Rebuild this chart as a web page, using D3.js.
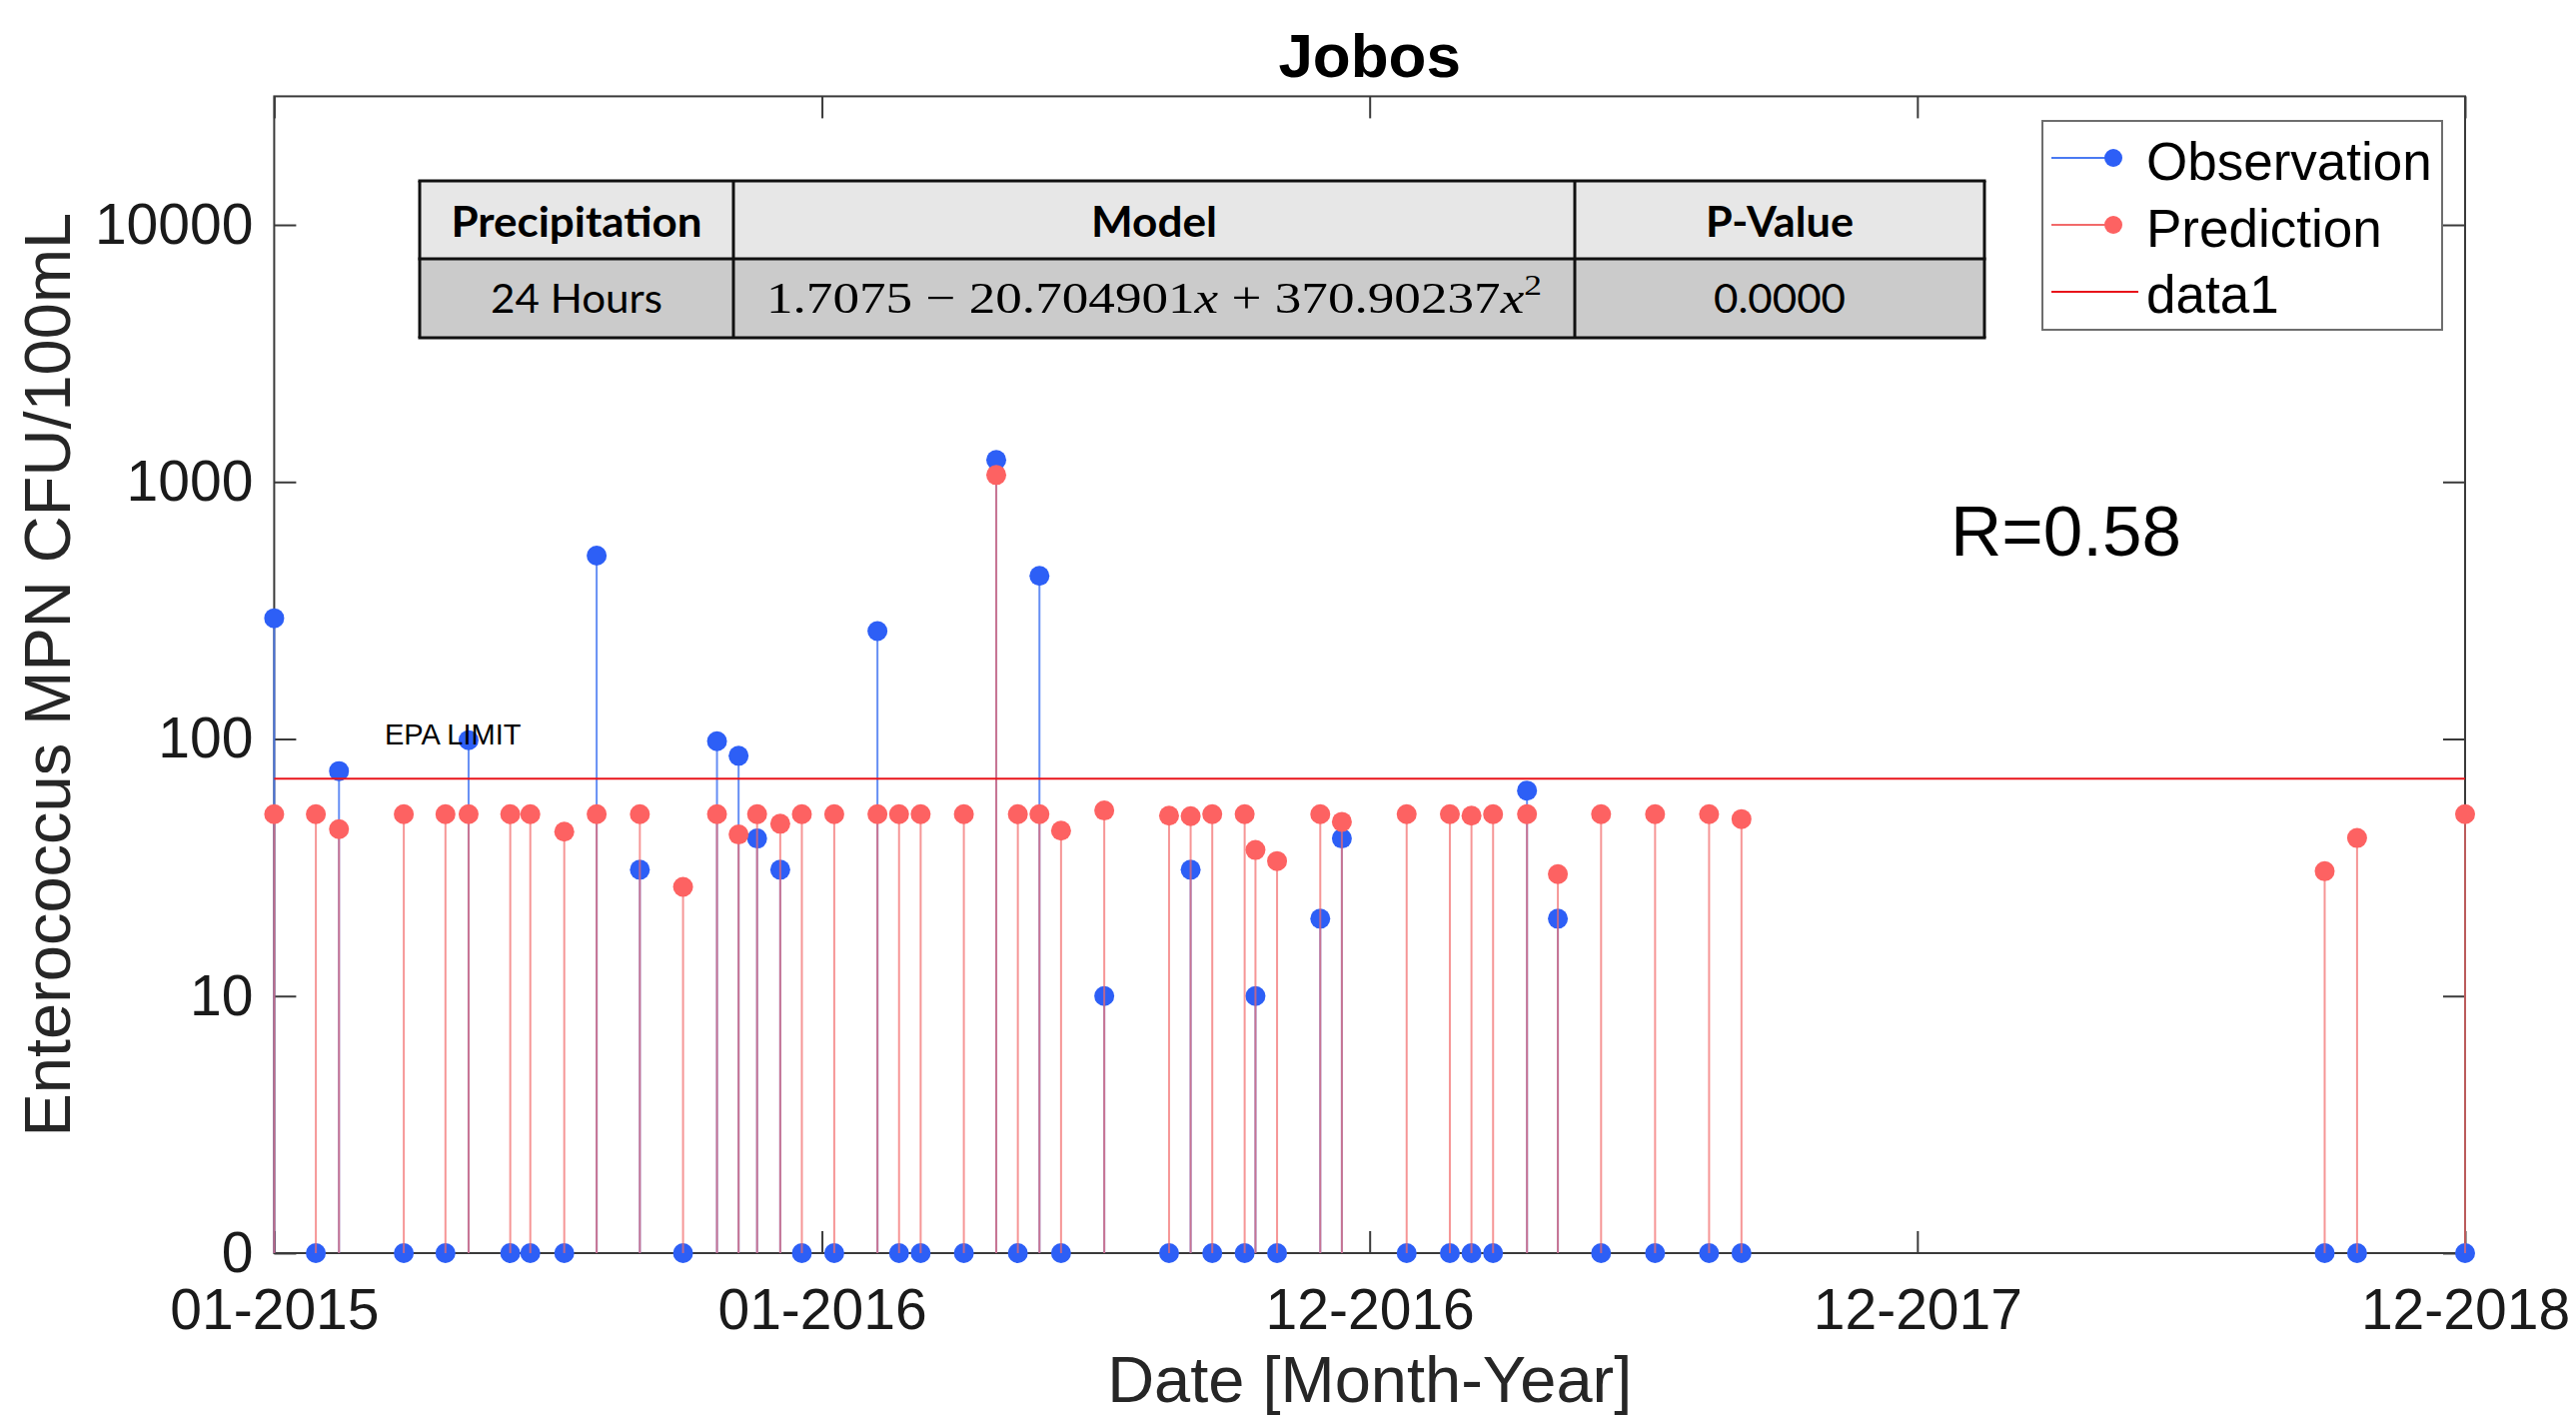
<!DOCTYPE html>
<html>
<head>
<meta charset="utf-8">
<script src="https://cdn.jsdelivr.net/npm/d3@7"></script>
<style>
  body { margin: 0; background: #ffffff; }
  text { font-family: "Liberation Sans", Arial, sans-serif; }
</style>
</head>
<body>
<div id="canvas"></div>
<script>
"use strict"

/* Data */
let sampleDates = [
    "2015-01-20", "2015-02-16", "2015-03-03", "2015-04-14", "2015-05-11", "2015-05-26",
    "2015-06-22", "2015-07-05", "2015-07-27", "2015-08-17", "2015-09-14", "2015-10-12",
    "2015-11-03", "2015-11-17", "2015-11-29", "2015-12-14", "2015-12-28", "2016-01-18",
    "2016-02-15", "2016-02-29", "2016-03-14", "2016-04-11", "2016-05-02", "2016-05-16",
    "2016-05-30", "2016-06-13", "2016-07-11", "2016-08-22", "2016-09-05", "2016-09-19",
    "2016-10-10", "2016-10-17", "2016-10-31", "2016-11-28", "2016-12-12", "2017-01-23",
    "2017-02-20", "2017-03-06", "2017-03-20", "2017-04-11", "2017-05-01", "2017-05-29",
    "2017-07-03", "2017-08-07", "2017-08-28", "2018-09-10", "2018-10-01", "2018-12-10"
];

let observation = [
    295, 0, 75, 0, 0, 99,
    0, 0, 0, 517, 31, 0,
    98, 86, 41, 31, 0, 0,
    263, 0, 0, 0, 1218, 0,
    431, 0, 10, 0, 31, 0,
    0, 10, 0, 20, 41, 0,
    0, 0, 0, 63, 20, 0,
    0, 0, 0, 0, 0, 0
];

let prediction = [
    51, 51, 44.6, 51, 51, 51,
    51, 51, 43.6, 51, 51, 26.6,
    51, 42.5, 51, 46.8, 51, 51,
    51, 51, 51, 51, 1064, 51,
    51, 44, 52.7, 50.3, 50.1, 51,
    51, 37, 33.5, 51, 47.6, 51,
    51, 50.3, 51, 51, 29.8, 51,
    51, 51, 48.8, 30.6, 41.2, 51
];

let epaLimit = 70;
let yTickValues = [1, 10, 100, 1000, 10000];
let axisStart = "2015-01-20";
let axisEnd = "2018-12-10";

let tableHeader = ["Precipitation", "Model", "P-Value"];
let tableRow = ["24 Hours", "", "0.0000"];

/* Configuration variables: drawing */
let svgWidth = 2578;
let svgHeight = 1419;
let plotLeft = 274.4;
let plotRight = 2467;
let plotTop = 96.4;
let plotBottom = 1254;
let tickLen = 22;
let axisColor = "#3a3a3a";
let blue = "#2d5ff6";
let red = "#fd6262";
let dotRadius = 10;

let svg = d3.select("#canvas")
    .append("svg")
    .attr("width", svgWidth)
    .attr("height", svgHeight);

let parseDate = d3.utcParse("%Y-%m-%d");
let dates = sampleDates.map(parseDate);
let xStart = parseDate(axisStart);
let xEnd = parseDate(axisEnd);

let x = d3.scaleUtc()
    .domain([xStart, xEnd])
    .range([plotLeft, plotRight]);

let y = d3.scaleLog()
    .domain([1, Math.pow(10, 4.5)])
    .range([plotBottom, plotTop]);

/* MATLAB spreads its five date ticks evenly over the limits */
let xTicks = d3.range(5).map(function (i) {
    return new Date(+xStart + i * (xEnd - xStart) / 4);
});

function yPos(v) {
    return y(Math.max(v, 1));
}

/**** axes and frame ****/
function styleAxis(g, fontSize) {
    g.select(".domain").remove();
    g.selectAll(".tick line")
        .attr("stroke", axisColor)
        .attr("stroke-width", 2);
    g.selectAll(".tick text")
        .attr("fill", "#1a1a1a")
        .style("font-family", "'Liberation Sans', Arial, sans-serif")
        .style("font-size", fontSize + "px");
}

svg.append("g")
    .attr("transform", "translate(0," + plotBottom + ")")
    .call(d3.axisBottom(x).tickValues(xTicks).tickFormat(d3.utcFormat("%m-%Y"))
        .tickSizeInner(-tickLen).tickSizeOuter(0).tickPadding(36))
    .call(styleAxis, 57);

svg.append("g")
    .attr("transform", "translate(0," + plotTop + ")")
    .call(d3.axisTop(x).tickValues(xTicks).tickFormat("")
        .tickSizeInner(-tickLen).tickSizeOuter(0))
    .call(styleAxis, 1);

svg.append("g")
    .attr("transform", "translate(" + plotLeft + ",0)")
    .call(d3.axisLeft(y).tickValues(yTickValues)
        .tickFormat(function (v) { return v === 1 ? "0" : String(v); })
        .tickSizeInner(-tickLen).tickSizeOuter(0).tickPadding(21))
    .call(styleAxis, 57);

svg.append("g")
    .attr("transform", "translate(" + plotRight + ",0)")
    .call(d3.axisRight(y).tickValues(yTickValues).tickFormat("")
        .tickSizeInner(-tickLen).tickSizeOuter(0))
    .call(styleAxis, 1);

svg.append("rect")
    .attr("x", plotLeft)
    .attr("y", plotTop)
    .attr("width", plotRight - plotLeft)
    .attr("height", plotBottom - plotTop)
    .attr("fill", "none")
    .attr("stroke", axisColor)
    .attr("stroke-width", 2);

/**** stems ****/
let points = dates.map(function (d, i) {
    return { date: d, obs: observation[i], pred: prediction[i] };
});

let obsLayer = svg.append("g");
obsLayer.selectAll("line")
    .data(points)
    .join("line")
    .attr("x1", function (d) { return x(d.date); })
    .attr("x2", function (d) { return x(d.date); })
    .attr("y1", plotBottom)
    .attr("y2", function (d) { return yPos(d.obs); })
    .attr("stroke", "#4a7af2")
    .attr("stroke-opacity", 0.85)
    .attr("stroke-width", 2);

obsLayer.selectAll("circle")
    .data(points)
    .join("circle")
    .attr("cx", function (d) { return x(d.date); })
    .attr("cy", function (d) { return yPos(d.obs); })
    .attr("r", dotRadius)
    .attr("fill", blue);

let predLayer = svg.append("g");
predLayer.selectAll("line")
    .data(points)
    .join("line")
    .attr("x1", function (d) { return x(d.date); })
    .attr("x2", function (d) { return x(d.date); })
    .attr("y1", plotBottom)
    .attr("y2", function (d) { return yPos(d.pred); })
    .attr("stroke", "#f26a6a")
    .attr("stroke-opacity", 0.7)
    .attr("stroke-width", 2);

predLayer.selectAll("circle")
    .data(points)
    .join("circle")
    .attr("cx", function (d) { return x(d.date); })
    .attr("cy", function (d) { return yPos(d.pred); })
    .attr("r", dotRadius)
    .attr("fill", red);

/**** EPA limit ****/
svg.append("line")
    .attr("x1", plotLeft)
    .attr("x2", plotRight)
    .attr("y1", y(epaLimit))
    .attr("y2", y(epaLimit))
    .attr("stroke", "#e8141b")
    .attr("stroke-width", 2);

svg.append("text")
    .attr("x", 385)
    .attr("y", 745)
    .style("font-size", "29px")
    .text("EPA LIMIT");

/**** titles and labels ****/
svg.append("text")
    .attr("x", (plotLeft + plotRight) / 2)
    .attr("y", 77)
    .attr("text-anchor", "middle")
    .style("font-size", "62px")
    .style("font-weight", "bold")
    .text("Jobos");

svg.append("text")
    .attr("x", (plotLeft + plotRight) / 2)
    .attr("y", 1403)
    .attr("text-anchor", "middle")
    .attr("fill", "#262626")
    .style("font-size", "65px")
    .text("Date [Month-Year]");

svg.append("text")
    .attr("transform", "translate(70," + ((plotTop + plotBottom) / 2) + ") rotate(-90)")
    .attr("text-anchor", "middle")
    .attr("fill", "#262626")
    .style("font-size", "65px")
    .text("Enterococcus MPN CFU/100mL");

svg.append("text")
    .attr("x", 1952)
    .attr("y", 556)
    .style("font-size", "71px")
    .text("R=0.58");

/**** legend ****/
let legend = svg.append("g");
legend.append("rect")
    .attr("x", 2044)
    .attr("y", 121)
    .attr("width", 400)
    .attr("height", 209)
    .attr("fill", "#ffffff")
    .attr("stroke", "#6e6e6e")
    .attr("stroke-width", 2);

let legendItems = [
    { label: "Observation", line: "#4a7af2", dot: blue, cy: 158, ty: 180 },
    { label: "Prediction", line: "#f26a6a", dot: red, cy: 225, ty: 247 },
    { label: "data1", line: "#e8141b", dot: null, cy: 292, ty: 313 }
];

legendItems.forEach(function (item) {
    legend.append("line")
        .attr("x1", 2053)
        .attr("x2", item.dot ? 2115 : 2140)
        .attr("y1", item.cy)
        .attr("y2", item.cy)
        .attr("stroke", item.line)
        .attr("stroke-width", 2);
    if (item.dot) {
        legend.append("circle")
            .attr("cx", 2115)
            .attr("cy", item.cy)
            .attr("r", 9)
            .attr("fill", item.dot);
    }
    legend.append("text")
        .attr("x", 2148)
        .attr("y", item.ty)
        .style("font-size", "53px")
        .text(item.label);
});

/**** model table ****/
let colEdges = [420, 734, 1576, 1986];
let rowEdges = [181, 259, 338];
let table = svg.append("g");

table.append("rect")
    .attr("x", colEdges[0]).attr("y", rowEdges[0])
    .attr("width", colEdges[3] - colEdges[0]).attr("height", rowEdges[1] - rowEdges[0])
    .attr("fill", "#e7e7e7");
table.append("rect")
    .attr("x", colEdges[0]).attr("y", rowEdges[1])
    .attr("width", colEdges[3] - colEdges[0]).attr("height", rowEdges[2] - rowEdges[1])
    .attr("fill", "#cbcbcb");

rowEdges.forEach(function (ry) {
    table.append("line")
        .attr("x1", colEdges[0] - 1.5).attr("x2", colEdges[3] + 1.5)
        .attr("y1", ry).attr("y2", ry)
        .attr("stroke", "#111111").attr("stroke-width", 3);
});
colEdges.forEach(function (cx) {
    table.append("line")
        .attr("x1", cx).attr("x2", cx)
        .attr("y1", rowEdges[0]).attr("y2", rowEdges[2])
        .attr("stroke", "#111111").attr("stroke-width", 3);
});

let headerWidths = [251, 126, 148];
tableHeader.forEach(function (label, i) {
    table.append("text")
        .attr("x", (colEdges[i] + colEdges[i + 1]) / 2)
        .attr("y", 237)
        .attr("text-anchor", "middle")
        .attr("textLength", headerWidths[i])
        .attr("lengthAdjust", "spacingAndGlyphs")
        .style("font-family", "Lato, 'Open Sans', sans-serif")
        .style("font-weight", "bold")
        .style("font-size", "42px")
        .text(label);
});

let bodyWidths = [172, 776, 132];
tableRow.forEach(function (label, i) {
    if (i === 1) return;
    table.append("text")
        .attr("x", (colEdges[i] + colEdges[i + 1]) / 2)
        .attr("y", 313)
        .attr("text-anchor", "middle")
        .attr("textLength", bodyWidths[i])
        .attr("lengthAdjust", "spacingAndGlyphs")
        .style("font-family", "Lato, 'Open Sans', sans-serif")
        .style("font-size", "41px")
        .text(label);
});

let formula = table.append("text")
    .attr("x", (colEdges[1] + colEdges[2]) / 2)
    .attr("y", 313)
    .attr("text-anchor", "middle")
    .attr("textLength", bodyWidths[1])
    .attr("lengthAdjust", "spacingAndGlyphs")
    .style("font-family", "'Liberation Serif', 'DejaVu Serif', serif")
    .style("font-size", "45px");
formula.append("tspan").text("1.7075 \u2212 20.704901");
formula.append("tspan").style("font-style", "italic").text("x");
formula.append("tspan").text(" + 370.90237");
formula.append("tspan").style("font-style", "italic").text("x");
formula.append("tspan").attr("dy", -18).style("font-size", "30px").text("2");
</script>
</body>
</html>
